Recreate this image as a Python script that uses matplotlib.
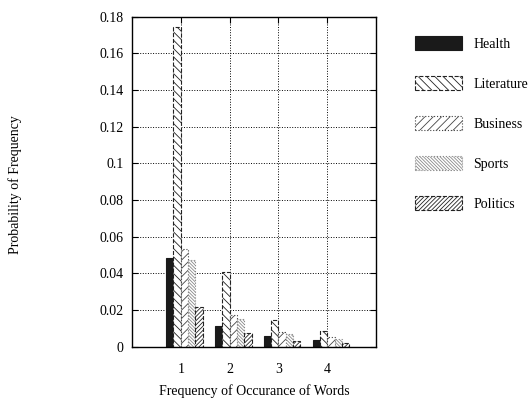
import matplotlib
matplotlib.use("Agg")
import matplotlib.pyplot as plt
import numpy as np

plt.rcParams['font.family'] = ['Liberation Serif', 'DejaVu Serif']
plt.rcParams['hatch.linewidth'] = 0.6

freqs = [1, 2, 3, 4]
categories = ['Health', 'Literature', 'Business', 'Sports', 'Politics']
health = [0.0485, 0.0115, 0.0058, 0.0037]
literature = [0.1745, 0.0405, 0.0144, 0.0086]
business = [0.0535, 0.0173, 0.0082, 0.0052]
sports = [0.0472, 0.0151, 0.0069, 0.0040]
politics = [0.0218, 0.0076, 0.0029, 0.0019]
yticks = [0, 0.02, 0.04, 0.06, 0.08, 0.1, 0.12, 0.14, 0.16, 0.18]
ytick_labels = ['0', '0.02', '0.04', '0.06', '0.08', '0.1', '0.12', '0.14', '0.16', '0.18']

series = [health, literature, business, sports, politics]
# face, edge, hatch, linestyle for each category
styles = [
    dict(facecolor='#1a1a1a', edgecolor='#1a1a1a', hatch=None, linestyle='-'),
    dict(facecolor='white', edgecolor='#222222', hatch='\\\\\\\\', linestyle='--'),
    dict(facecolor='white', edgecolor='#444444', hatch='////', linestyle=':'),
    dict(facecolor='white', edgecolor='#8a8a8a', hatch='\\' * 10, linestyle=':'),
    dict(facecolor='white', edgecolor='#222222', hatch='/' * 8, linestyle='--'),
]

fig = plt.figure(figsize=(5.31, 4.01), dpi=100)
ax = fig.add_axes([0.2486, 0.1354, 0.4595, 0.8229])

x = np.array(freqs, dtype=float)
width = 0.15
handles = []
for i, (vals, st) in enumerate(zip(series, styles)):
    b = ax.bar(x - 0.3 + i * width, vals, width=width, align='edge',
               linewidth=0.8, **st)
    handles.append(b)

ax.set_xlim(0, 5)
ax.set_ylim(0, 0.18)
ax.set_xticks(freqs)
ax.set_yticks(yticks)
ax.set_yticklabels(ytick_labels)
ax.tick_params(direction='in', top=True, right=True, labelsize=10, length=4, pad=6)
ax.tick_params(axis='x', pad=12)
ax.grid(True, linestyle=':', color='black', linewidth=0.7)
ax.set_axisbelow(True)
for s in ax.spines.values():
    s.set_linewidth(1.0)

ax.set_xlabel('Frequency of Occurance of Words', fontsize=10, labelpad=6)
fig.text(15 / 531, 1 - 185 / 401, 'Probability of Frequency', rotation=90,
         fontsize=10, ha='center', va='center')

fig.legend(handles, categories, loc='upper left',
           bbox_to_anchor=(402 / 531, 1 - 23 / 401), frameon=False,
           fontsize=10, handlelength=3.45, handleheight=1.25,
           labelspacing=1.8, handletextpad=0.8)

fig.savefig('out.png', dpi=100)
